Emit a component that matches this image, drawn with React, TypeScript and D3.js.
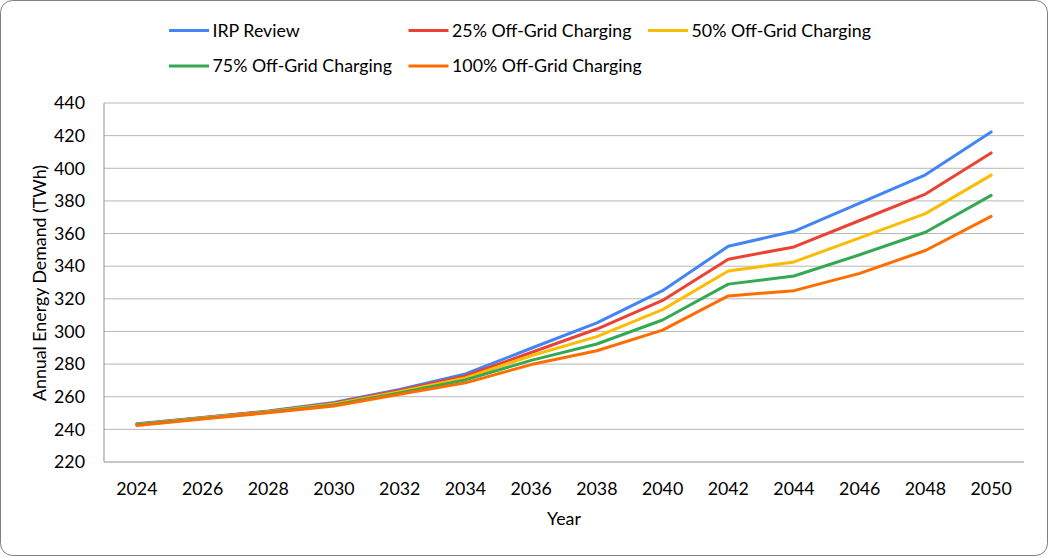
import React from 'react';
import * as d3 from 'd3';

const years = ['2024', '2026', '2028', '2030', '2032', '2034', '2036', '2038', '2040', '2042', '2044', '2046', '2048', '2050'];

const irpReview = [243.5, 247.3, 251.2, 256.5, 264.5, 274.0, 289.7, 305.3, 325.0, 352.2, 361.4, 378.6, 396.0, 422.3];
const offGrid25 = [243.2, 247.1, 251.0, 256.0, 263.8, 272.8, 287.1, 301.5, 319.0, 344.3, 351.8, 368.0, 384.2, 409.4];
const offGrid50 = [243.0, 246.9, 250.8, 255.5, 263.0, 271.5, 285.1, 296.8, 313.4, 337.0, 342.6, 357.4, 372.2, 395.8];
const offGrid75 = [242.8, 246.7, 250.5, 255.0, 262.3, 270.3, 282.3, 292.3, 307.0, 329.0, 334.0, 347.0, 360.8, 383.4];
const offGrid100 = [242.4, 246.4, 250.2, 254.3, 261.5, 268.5, 279.7, 288.2, 300.8, 321.8, 325.0, 335.6, 349.6, 370.5];

const yTicks = [220, 240, 260, 280, 300, 320, 340, 360, 380, 400, 420, 440];

const seriesNames = ['IRP Review', '25% Off-Grid Charging', '50% Off-Grid Charging', '75% Off-Grid Charging', '100% Off-Grid Charging'];
const seriesColors = ['#4285F4', '#EA4335', '#FBBC04', '#34A853', '#FF6D01'];

const series = [irpReview, offGrid25, offGrid50, offGrid75, offGrid100].map((values, i) => ({
  name: seriesNames[i],
  color: seriesColors[i],
  values,
}));

const W = 1048;
const H = 556;
const FONT = 'Lato, "Open Sans", sans-serif';
const FS = 17.8;

const App: React.FC = () => {
  const plot = { left: 104, right: 1024, top: 103, bottom: 462 };

  const x = d3.scalePoint<string>().domain(years).range([plot.left, plot.right]).padding(0.5);
  const y = d3.scaleLinear().domain([220, 440]).range([plot.bottom, plot.top]);

  const line = d3
    .line<number>()
    .x((_, i) => x(years[i]) as number)
    .y((d) => y(d));

  // legend: 3 fixed-width columns, 2 rows
  const legendCol = [169, 408.5, 648];
  const legendRow = [30.5, 66];

  return (
    <div style={{ width: W, height: H }}>
      <style>{`body{margin:0}`}</style>
      <svg width={W} height={H} viewBox={`0 0 ${W} ${H}`} style={{ display: 'block', fontFamily: FONT }}>
        <rect x={0.5} y={0.5} width={W - 1} height={H - 1} rx={12} fill="#fff" stroke="#7f7f7f" />

        {/* gridlines */}
        {yTicks.slice(1).map((t) => (
          <line key={t} x1={plot.left} x2={plot.right} y1={y(t)} y2={y(t)} stroke="#b7b7b7" strokeWidth={1} />
        ))}
        {/* axes */}
        <line x1={plot.left} x2={plot.left} y1={plot.top} y2={plot.bottom} stroke="#8f8f8f" />
        <line x1={plot.left} x2={plot.right} y1={plot.bottom} y2={plot.bottom} stroke="#8f8f8f" />

        {/* y tick labels */}
        {yTicks.map((t) => (
          <text key={t} x={85} y={y(t)} dy="0.35em" textAnchor="end" fontSize={FS} fill="#000">
            {t}
          </text>
        ))}
        {/* x tick labels */}
        {years.map((yr) => (
          <text key={yr} x={x(yr)} y={489} dy="0.35em" textAnchor="middle" fontSize={FS} fill="#000">
            {yr}
          </text>
        ))}

        {/* axis titles */}
        <text x={564} y={519} dy="0.35em" textAnchor="middle" fontSize={FS} fill="#000">
          Year
        </text>
        <text
          transform={`translate(40,283) rotate(-90)`}
          dy="0.35em"
          textAnchor="middle"
          fontSize={FS}
          fill="#000"
        >
          Annual Energy Demand (TWh)
        </text>

        {/* lines */}
        {series.map((s) => (
          <path
            key={s.name}
            d={line(s.values) || ''}
            fill="none"
            stroke={s.color}
            strokeWidth={3}
            strokeLinejoin="round"
            strokeLinecap="round"
          />
        ))}

        {/* legend */}
        {series.map((s, i) => {
          const lx = legendCol[i % 3];
          const ly = legendRow[Math.floor(i / 3)];
          return (
            <g key={s.name}>
              <line x1={lx} x2={lx + 40} y1={ly} y2={ly} stroke={s.color} strokeWidth={3} />
              <text x={lx + 43.5} y={ly} dy="0.35em" fontSize={FS} fill="#000">
                {s.name}
              </text>
            </g>
          );
        })}
      </svg>
    </div>
  );
};

export default App;
